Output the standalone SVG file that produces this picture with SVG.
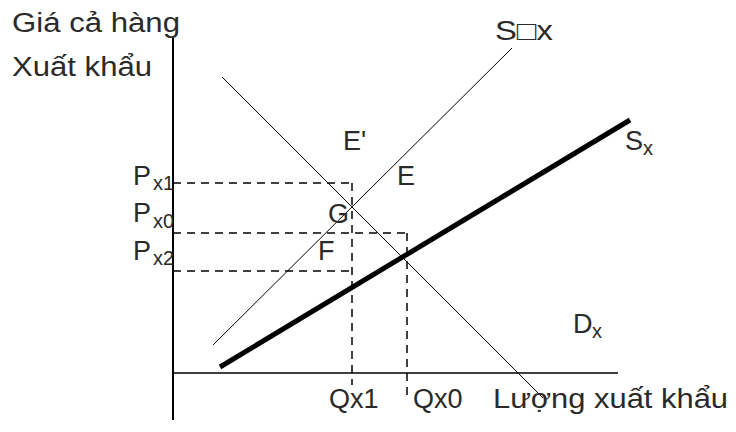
<svg xmlns="http://www.w3.org/2000/svg" width="736" height="432" viewBox="0 0 736 432">
<style>
text{font-family:"Liberation Sans",Arial,sans-serif;font-size:27px;fill:#2a2a2a}
.sub{font-size:20px}
.ax{stroke:#000;fill:none}
.dash{stroke:#000;stroke-width:1.5;stroke-dasharray:8 6;fill:none}
.thin{stroke:#000;stroke-width:1;fill:none}
</style>
<rect width="736" height="432" fill="#fff"/>
<g id="connectors">
<line class="ax" x1="173" y1="38" x2="173" y2="420" stroke-width="2"/>
<line class="ax" x1="173" y1="373" x2="618" y2="373" stroke-width="1.5"/>
<line class="thin" x1="213" y1="345" x2="512" y2="48"/>
<line class="thin" x1="222" y1="77" x2="543" y2="398"/>
<line class="ax" x1="220" y1="367" x2="630" y2="120" stroke-width="5"/>
<line class="dash" x1="173" y1="183" x2="352" y2="183"/>
<line class="dash" x1="173" y1="233" x2="407" y2="233"/>
<line class="dash" x1="173" y1="271" x2="352" y2="271"/>
<line class="dash" x1="352" y1="183" x2="352" y2="385"/>
<line class="dash" x1="407" y1="233" x2="407" y2="397"/>
</g>
<g id="y-label"><text x="12" y="32" textLength="168" lengthAdjust="spacingAndGlyphs">Giá cả hàng</text><text x="12" y="76" textLength="140" lengthAdjust="spacingAndGlyphs">Xuất khẩu</text></g>
<g id="x-label"><text x="493" y="408" textLength="235" lengthAdjust="spacingAndGlyphs">Lượng xuất khẩu</text></g>
<g id="S-prime"><text x="495" y="40" textLength="58" lengthAdjust="spacingAndGlyphs">S□x</text></g>
<g id="Sx"><text x="625" y="150">S</text><text class="sub" x="643" y="155">x</text></g>
<g id="Dx"><text x="573" y="333">D</text><text class="sub" x="592" y="338">x</text></g>
<g id="E-prime"><text x="343" y="150">E'</text></g>
<g id="E"><text x="397" y="185">E</text></g>
<g id="G"><text x="328" y="223">G</text></g>
<g id="F"><text x="318" y="260">F</text></g>
<g id="Px1"><text x="133" y="185">P</text><text class="sub" x="153" y="190">x1</text></g>
<g id="Px0"><text x="133" y="222">P</text><text class="sub" x="153" y="228">x0</text></g>
<g id="Px2"><text x="133" y="260">P</text><text class="sub" x="153" y="265">x2</text></g>
<g id="Qx1"><text x="329" y="408">Qx1</text></g>
<g id="Qx0"><text x="413" y="408">Qx0</text></g>
</svg>
